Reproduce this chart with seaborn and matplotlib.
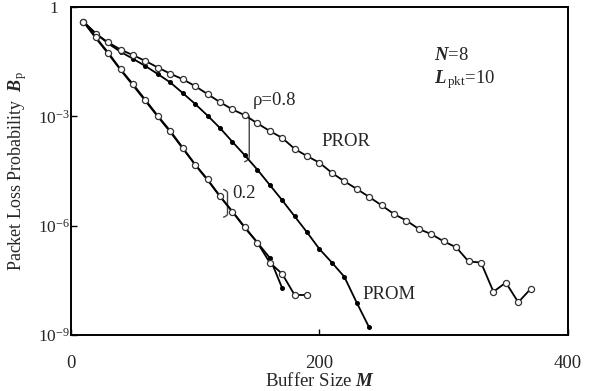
import matplotlib
matplotlib.use('Agg')
import matplotlib.pyplot as plt
from matplotlib.path import Path
from matplotlib.patches import PathPatch
import numpy as np
import pandas as pd
import seaborn as sns

# buffer sizes (x) and log10 of packet loss probability
m_pror = [10, 20, 30, 40, 50, 60, 70, 80, 90, 100, 110, 120, 130, 140, 150, 160, 170, 180, 190,
          200, 210, 220, 230, 240, 250, 260, 270, 280, 290, 300, 310, 320, 330, 340, 350, 360, 370]
lb_pror = [-0.40, -0.74, -0.97, -1.17, -1.32, -1.48, -1.66, -1.83, -1.98, -2.17, -2.39, -2.61, -2.81,
           -2.97, -3.19, -3.40, -3.59, -3.89, -4.09, -4.27, -4.55, -4.78, -4.99, -5.21, -5.44, -5.68,
           -5.86, -6.09, -6.23, -6.43, -6.59, -6.98, -7.01, -7.81, -7.56, -8.10, -7.73]

m_prom = [10, 20, 30, 40, 50, 60, 70, 80, 90, 100, 110, 120, 130, 140, 150, 160, 170, 180, 190,
          200, 210, 220, 230, 240]
lb_prom = [-0.40, -0.72, -1.00, -1.23, -1.42, -1.62, -1.84, -2.07, -2.36, -2.66, -2.98, -3.32, -3.70,
           -4.07, -4.46, -4.88, -5.30, -5.74, -6.18, -6.64, -7.01, -7.40, -8.11, -8.79]

m_pror2 = [10, 20, 30, 40, 50, 60, 70, 80, 90, 100, 110, 120, 130, 140, 150, 160, 170, 180, 190]
lb_pror2 = [-0.40, -0.83, -1.25, -1.71, -2.12, -2.55, -2.99, -3.40, -3.86, -4.32, -4.73, -5.19, -5.61,
            -6.04, -6.46, -7.01, -7.32, -7.90, -7.90]

m_prom2 = [10, 20, 30, 40, 50, 60, 70, 80, 90, 100, 110, 120, 130, 140, 150, 160, 170]
lb_prom2 = [-0.40, -0.85, -1.28, -1.73, -2.15, -2.58, -3.01, -3.43, -3.88, -4.33, -4.75, -5.20, -5.62,
            -6.06, -6.46, -6.88, -7.71]

yticks = [1e-9, 1e-6, 1e-3, 1]
ytick_labels = ['$10^{-9}$', '$10^{-6}$', '$10^{-3}$', '1']
xticks = [0, 200, 400]

sns.set_style('ticks')
plt.rcParams['font.family'] = ['Liberation Serif', 'DejaVu Serif']
plt.rcParams['mathtext.fontset'] = 'custom'
plt.rcParams['mathtext.rm'] = 'Liberation Serif'
plt.rcParams['mathtext.it'] = 'Liberation Serif:italic'
plt.rcParams['mathtext.bf'] = 'Liberation Serif:italic:bold'

FS = 13.5

fig = plt.figure(figsize=(5.96, 3.91), dpi=100)
ax = fig.add_axes([0.119, 0.143, 0.834, 0.839])

open_kw = dict(color='black', lw=1.3, marker='o', markersize=4.4, markerfacecolor='white',
               markeredgecolor='#333333', markeredgewidth=0.9)
dot_kw = dict(color='black', lw=1.3, marker='o', markersize=2.8, markerfacecolor='black',
              markeredgecolor='black')

for m, lb, kw in [(m_prom, lb_prom, dot_kw), (m_prom2, lb_prom2, dot_kw),
                  (m_pror, lb_pror, open_kw), (m_pror2, lb_pror2, open_kw)]:
    df = pd.DataFrame({'M': m, 'Bp': 10.0 ** np.array(lb)})
    sns.lineplot(data=df, x='M', y='Bp', sort=False, estimator=None, ax=ax, **kw)

ax.set_yscale('log')
ax.set_xlim(0, 400)
ax.set_ylim(1e-9, 1)
ax.set_yticks(yticks)
ax.set_yticklabels(ytick_labels)
ax.set_xticks(xticks)
ax.set_xticklabels([str(t) for t in xticks])
ax.minorticks_off()
ax.tick_params(axis='both', direction='in', length=4, width=1, labelsize=FS, color='black')
ax.tick_params(axis='x', pad=14)
ax.tick_params(axis='y', pad=12, labelsize=12.5)
for lab in ax.get_yticklabels():
    lab.set_horizontalalignment('center')
for sp in ax.spines.values():
    sp.set_linewidth(1.4)
    sp.set_color('black')

ax.set_xlabel(r'Buffer Size $\mathbf{M}$', fontsize=FS, labelpad=0)
ax.set_ylabel(r'Packet Loss Probability  $\mathbf{B}_{\mathrm{p}}$', fontsize=13)
ax.yaxis.set_label_coords(-0.085, 0.5)

# curve labels
ax.text(146, 10 ** -2.56, u'\u03c1=0.8', fontsize=FS, ha='left', va='center')
ax.text(129.5, 10 ** -5.12, '0.2', fontsize=FS, ha='left', va='center')
ax.text(221, 10 ** -3.69, 'PROR', fontsize=FS, ha='center', va='center')
ax.text(256, 10 ** -7.90, 'PROM', fontsize=FS, ha='center', va='center')
ax.text(292, 10 ** -1.32, r'$\mathbf{N}$=8', fontsize=FS, ha='left', va='center')
ax.text(292, 10 ** -1.98, r'$\mathbf{L}_{\,\mathrm{pkt}}$=10', fontsize=FS, ha='left', va='center')

# brackets joining the pairs of curves
def bracket(x_end, x_line, top, bottom, curl):
    verts = [(x_end, 10 ** top), (x_line, 10 ** (top - curl * 0.4)), (x_line, 10 ** (top - curl)),
             (x_line, 10 ** (bottom + curl)), (x_line, 10 ** (bottom + curl * 0.4)), (x_end, 10 ** bottom)]
    codes = [Path.MOVETO, Path.CURVE3, Path.CURVE3, Path.LINETO, Path.CURVE3, Path.CURVE3]
    ax.add_patch(PathPatch(Path(verts, codes), fill=False, lw=1.0, color='#444444'))

bracket(139.5, 143.5, -2.88, -4.25, 0.14)
bracket(122.5, 126.0, -5.00, -5.77, 0.10)

fig.savefig('out.png', dpi=100)
